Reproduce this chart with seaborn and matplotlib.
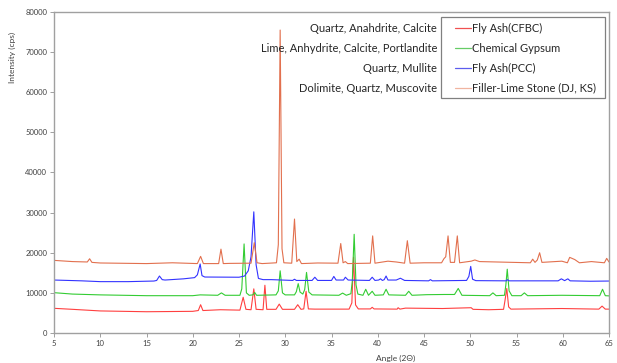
import matplotlib
matplotlib.use("Agg")
import matplotlib.pyplot as plt
import seaborn as sns
import pandas as pd
from matplotlib.lines import Line2D
from matplotlib.patches import Rectangle

# ---- data ----
cfbc_angle = [5, 7, 10, 15, 20, 20.6, 20.85, 21.1, 23.0, 24.0, 25.1, 25.45, 25.75, 26.3, 26.6, 26.85,
              27.6, 27.8, 28.0, 29.0, 29.35, 29.7, 31.0, 31.35, 31.7, 32.0, 32.25, 32.5, 33.2, 36.9,
              37.2, 37.38, 37.6, 37.9, 39.2, 39.4, 39.6, 42.1, 42.2, 42.4, 43.0, 47.0, 48.5, 50.1,
              50.3, 52.0, 53.6, 53.75, 53.95, 54.15, 54.4, 59.9, 63.9, 64.25, 64.6, 65]
cfbc_int = [6150, 5900, 5500, 5300, 5400, 5600, 7050, 5600, 5800, 5750, 5700, 8900, 5900, 5800, 11000, 5900,
            5800, 11900, 5900, 5900, 7200, 5900, 5900, 7050, 5900, 6000, 10400, 6000, 5950, 5950,
            7500, 18900, 7000, 6000, 6000, 6400, 6000, 5950, 6300, 5950, 6200, 6100, 6200, 6300,
            5900, 5800, 5900, 8000, 11100, 6500, 5950, 6100, 5950, 6700, 5950, 5950]

gyp_angle = [5, 7, 10, 15, 20, 20.8, 22.7, 23.1, 23.5, 25.1, 25.3, 25.55, 25.8, 26.1, 26.5, 26.7, 26.9,
             29.0, 29.25, 29.45, 29.7, 30.0, 31.0, 31.2, 31.4, 31.6, 31.9, 32.1, 32.3, 32.55, 32.9,
             35.8, 36.2, 36.6, 37.1, 37.25, 37.45, 37.65, 37.85, 38.4, 38.7, 39.0, 39.4, 39.7, 40.6,
             40.9, 41.2, 43.0, 43.35, 43.7, 45.3, 47.2, 48.3, 48.7, 49.1, 52.1, 52.45, 52.8, 53.7,
             53.85, 54.0, 54.2, 54.5, 55.5, 55.85, 56.2, 59.9, 64.0, 64.3, 64.6, 65]
gyp_int = [10050, 9700, 9500, 9300, 9300, 9500, 9400, 10000, 9400, 9400, 11000, 22200, 10000, 9400, 9500, 10100, 9400,
           9500, 10500, 15500, 10000, 9500, 9500, 10300, 12300, 10200, 9700, 10800, 15100, 10200, 9500,
           9400, 9950, 9400, 9800, 13000, 24600, 12000, 9700, 9400, 10900, 9400, 10400, 9400, 9500,
           10900, 9500, 9400, 10400, 9400, 9550, 9600, 9600, 11100, 9400, 9300, 10000, 9300, 9400,
           12000, 15900, 10500, 9300, 9300, 10000, 9300, 9400, 9300, 10900, 9300, 9250]

pcc_angle = [5, 8, 10, 13, 15.8, 16.1, 16.4, 16.7, 17, 19, 20.2, 20.5, 20.8, 21.0, 21.3, 25, 25.6, 26.0,
             26.3, 26.6, 26.85, 27.1, 27.6, 28.5, 30.8, 31.0, 31.2, 32.9, 33.2, 33.5, 35.0, 35.25, 35.5,
             36.3, 36.5, 36.8, 39.1, 39.4, 39.7, 40.1, 40.3, 40.5, 40.7, 40.9, 41.1, 42.0, 42.45, 42.9,
             45.5, 45.7, 45.9, 49.6, 49.85, 50.05, 50.25, 50.6, 53.9, 54.0, 54.2, 59.5, 59.85, 60.2,
             60.55, 60.8, 63, 65]
pcc_int = [13200, 13000, 12800, 12800, 12950, 13100, 14200, 13300, 13200, 13500, 13800, 14500, 17200, 14300, 13950,
           13900, 14200, 15500, 19000, 30200, 17000, 13600, 13300, 13300, 13100, 13400, 13100, 13100, 13900,
           13100, 13100, 14100, 13200, 13200, 13900, 13200, 13100, 13900, 13100, 13200, 13500, 13100, 13300,
           14200, 13200, 13200, 13650, 13100, 13000, 13300, 13000, 13100, 14100, 16600, 13400, 13050, 13000,
           13300, 13000, 13000, 13500, 13050, 13500, 13000, 12900, 12950]

lime_angle = [5, 7, 8.6, 8.85, 9.1, 10, 15, 17.8, 20.5, 20.85, 21.15, 22.8, 23.05, 23.3, 24, 26.3, 26.65,
              26.95, 27.5, 29.05, 29.25, 29.45, 29.65, 29.85, 30.7, 31.0, 31.25, 31.5, 31.75, 33.5, 35.7,
              36.0, 36.25, 36.5, 36.75, 39.2, 39.45, 39.7, 41.1, 42.0, 42.3, 42.9, 43.2, 43.5, 45, 46.9,
              47.15, 47.35, 47.6, 47.85, 48.3, 48.6, 48.85, 50.1, 50.5, 51.0, 56.5, 56.75, 57.0, 57.25,
              57.5, 57.75, 59.9, 60.5, 60.75, 61.3, 61.8, 63.1, 64.5, 64.75, 65]
lime_int = [18100, 17800, 17700, 18500, 17600, 17450, 17300, 17500, 17300, 19100, 17300, 17300, 20900, 17300, 17350,
            17400, 22500, 17500, 17300, 17500, 22000, 75500, 21000, 17500, 17400, 28400, 17800, 18400, 17300,
            17450, 17400, 22300, 17500, 17800, 17300, 17400, 24200, 17400, 17900, 17700, 17600, 17400, 23000,
            17400, 17500, 17500, 18500, 19000, 24200, 17600, 17600, 24200, 17500, 17900, 18200, 17800, 17500,
            18400, 17600, 18200, 20000, 17600, 17900, 17500, 18850, 18300, 17500, 17800, 17500, 18600, 17700]

series_names = ["Fly Ash(CFBC)", "Chemical Gypsum", "Fly Ash(PCC)", "Filler-Lime Stone (DJ, KS)"]
mineral_labels = ["Quartz, Anahdrite, Calcite", "Lime, Anhydrite, Calcite, Portlandite",
                  "Quartz, Mullite", "Dolimite, Quartz, Muscovite"]
x_ticks = list(range(5, 66, 5))
y_ticks = list(range(0, 80001, 10000))

colors = ["#FF4040", "#33CC33", "#3333FF", "#E2704E"]
legend_colors = ["#F05050", "#66CC66", "#5C5CEE", "#F0B4A0"]

# ---- plot ----
sns.set_style("white")
plt.rcParams["font.family"] = ["Lato", "DejaVu Sans"]

W, H = 617, 363
fig = plt.figure(figsize=(W / 100, H / 100), dpi=100)
ax = fig.add_axes([54 / W, 30 / H, 555 / W, 321 / H])

data = [(cfbc_angle, cfbc_int), (gyp_angle, gyp_int), (pcc_angle, pcc_int), (lime_angle, lime_int)]
for (xa, ya), name, c in zip(data, series_names, colors):
    df = pd.DataFrame({"angle": xa, "intensity": ya})
    sns.lineplot(data=df, x="angle", y="intensity", ax=ax, color=c, lw=0.8, sort=False,
                 estimator=None, legend=False)

ax.set_xlim(5, 65)
ax.set_ylim(0, 80000)
ax.set_xticks(x_ticks)
ax.set_yticks(y_ticks)
ax.set_xticklabels([str(t) for t in x_ticks])
ax.set_yticklabels([str(t) for t in y_ticks])
ax.tick_params(axis="both", labelsize=5.5, labelcolor="#404040", length=3, width=0.6,
               color="#909090", direction="out", pad=2)
ax.tick_params(axis="x", bottom=True)
ax.tick_params(axis="y", left=True)
for s in ax.spines.values():
    s.set_color("#A0A0A0")
    s.set_linewidth(1.0)

ax.set_xlabel("Angle (2Θ)", fontsize=6, color="#404040")
ax.set_ylabel("Intensity (cps)", fontsize=6, color="#404040")
ax.xaxis.set_label_coords((396 - 54) / 555, (333 - 355) / 321)
ax.yaxis.set_label_coords((16 - 54) / 555, (333 - 57) / 321)

# mineral annotations (right-aligned) and legend rows
ys = [28, 48, 68, 88]
for txt, yp in zip(mineral_labels, ys):
    fig.text(437 / W, 1 - yp / H, txt, ha="right", va="center", fontsize=8, color="#262626")

# legend box drawn by hand to match the original layout
fig.add_artist(Rectangle((441 / W, 1 - 98 / H), (605 - 441) / W, (98 - 17) / H,
                         transform=fig.transFigure, facecolor="white", edgecolor="#808080", lw=0.9))
for name, c, yp in zip(series_names, legend_colors, ys):
    fig.add_artist(Line2D([455 / W, 471 / W], [1 - yp / H, 1 - yp / H], transform=fig.transFigure,
                          color=c, lw=0.9))
    fig.text(471.5 / W, 1 - yp / H, name, ha="left", va="center", fontsize=8, color="#262626")

fig.savefig("out.png", dpi=100)
